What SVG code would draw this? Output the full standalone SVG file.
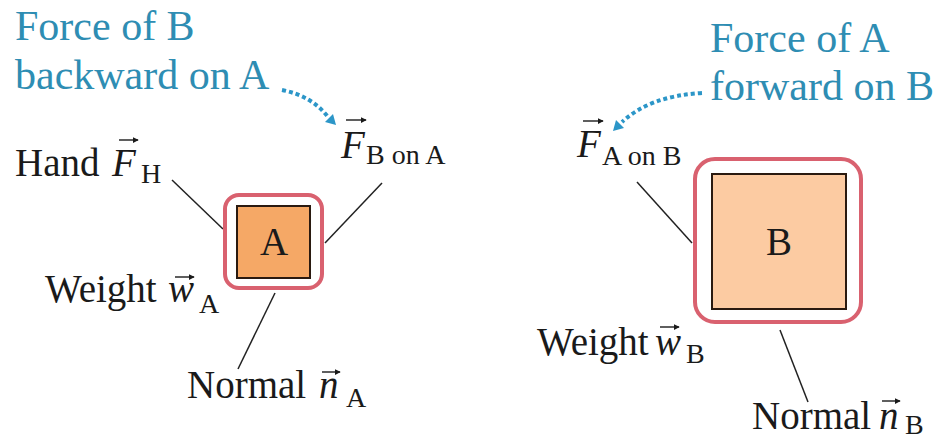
<svg xmlns="http://www.w3.org/2000/svg" width="938" height="440" viewBox="0 0 938 440" font-family="'Liberation Serif', 'DejaVu Serif', serif">
<defs>
<style>
text{font-family:'Liberation Serif','DejaVu Serif',serif}
.lbl{font-size:39px;fill:#1a1a1a}
.blue{font-size:42px;fill:#2e8db3}
.it{font-style:italic}
.sub{font-size:28px}
.frame{fill:#fff;stroke:#d9616f;stroke-width:4}
.inner{stroke:#2a1a10;stroke-width:2}
.conn{stroke:#222;stroke-width:1.5;fill:none}
.dot{stroke:#2c96c8;stroke-width:4;stroke-dasharray:4 3;fill:none}
.head{fill:#2c96c8}
.vec{stroke:#1a1a1a;stroke-width:1.4;fill:none}
</style>
<marker id="vh" viewBox="0 0 8 8" refX="7" refY="4" markerWidth="6" markerHeight="6" markerUnits="userSpaceOnUse" orient="auto">
<path d="M0,0 L8,4 L0,8 Z" fill="#1a1a1a"/>
</marker>
</defs>
<rect width="938" height="440" fill="#fff"/>

<g id="connectors">
<line class="conn" x1="172" y1="180" x2="223" y2="229"/>
<line class="conn" x1="382" y1="183" x2="325" y2="243"/>
<line class="conn" x1="275" y1="293" x2="238" y2="369"/>
<line class="conn" x1="637" y1="182" x2="692" y2="243"/>
<line class="conn" x1="780" y1="330" x2="808" y2="402"/>
<path class="dot" d="M282 90 Q312 96 328 117"/>
<polygon class="head" points="336,125 325,122 333,114"/>
<path class="dot" d="M702 93 Q650 96 622 122"/>
<polygon class="head" points="613,131 624,128 616,120"/>
</g>

<g id="boxA">
<rect class="frame" x="225" y="195" width="97" height="93" rx="14"/>
<rect class="inner" x="237" y="206" width="73" height="72" fill="#f5a866"/>
<text class="lbl" x="274" y="255" text-anchor="middle" font-size="38">A</text>
</g>

<g id="boxB">
<rect class="frame" x="695" y="159" width="166" height="163" rx="20"/>
<rect class="inner" x="712" y="174" width="134" height="135" fill="#fccba2"/>
<text class="lbl" x="779" y="255" text-anchor="middle">B</text>
</g>

<g id="label-force-B-on-A">
<text class="blue" x="15" y="40">Force of B</text>
<text class="blue" x="15" y="89">backward on A</text>
</g>

<g id="label-force-A-on-B">
<text class="blue" x="710" y="52">Force of A</text>
<text class="blue" x="710" y="100">forward on B</text>
</g>

<g id="vec-FBonA">
<text class="lbl it" x="341" y="158">F</text>
<text class="lbl sub" x="366" y="164">B on A</text>
<line class="vec" x1="346" y1="120" x2="366" y2="120" marker-end="url(#vh)"/>
</g>

<g id="vec-FAonB">
<text class="lbl it" x="577" y="157">F</text>
<text class="lbl sub" x="602" y="165">A on B</text>
<line class="vec" x1="583" y1="121" x2="603" y2="121" marker-end="url(#vh)"/>
</g>

<g id="label-hand">
<text class="lbl" x="15" y="176">Hand</text>
<text class="lbl it" x="112" y="176">F</text>
<text class="lbl sub" x="141" y="183">H</text>
<line class="vec" x1="119" y1="140" x2="138" y2="140" marker-end="url(#vh)"/>
</g>

<g id="label-weight-A">
<text class="lbl" x="45" y="302">Weight</text>
<text class="lbl it" x="168" y="302">w</text>
<text class="lbl sub" x="199" y="313">A</text>
<line class="vec" x1="175" y1="277" x2="194" y2="277" marker-end="url(#vh)"/>
</g>

<g id="label-normal-A">
<text class="lbl" x="187" y="398">Normal</text>
<text class="lbl it" x="319" y="398">n</text>
<text class="lbl sub" x="346" y="407">A</text>
<line class="vec" x1="322" y1="372" x2="340" y2="372" marker-end="url(#vh)"/>
</g>

<g id="label-weight-B">
<text class="lbl" x="537" y="355">Weight</text>
<text class="lbl it" x="655" y="355">w</text>
<text class="lbl sub" x="686" y="363">B</text>
<line class="vec" x1="660" y1="327" x2="679" y2="327" marker-end="url(#vh)"/>
</g>

<g id="label-normal-B">
<text class="lbl" x="752" y="429">Normal</text>
<text class="lbl it" x="879" y="429">n</text>
<text class="lbl sub" x="905" y="434" font-size="27">B</text>
<line class="vec" x1="882" y1="401" x2="900" y2="401" marker-end="url(#vh)"/>
</g>
</svg>
